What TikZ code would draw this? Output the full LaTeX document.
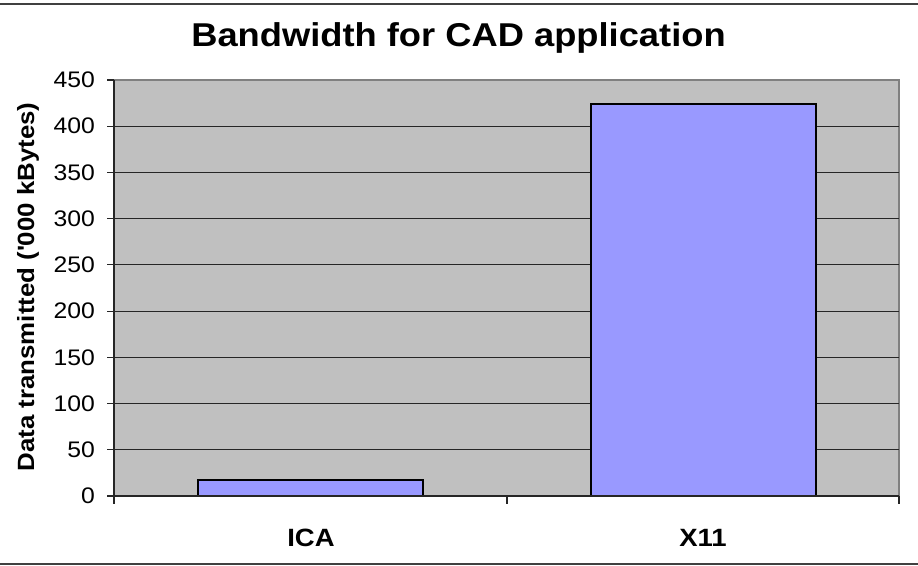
\documentclass[tikz,border=0pt]{standalone}
\usepackage{fontspec}
\setmainfont[FakeStretch=1.1]{Liberation Sans}
\definecolor{plotbg}{HTML}{C0C0C0}
\definecolor{plotframe}{HTML}{808080}
\definecolor{barfill}{HTML}{9999FF}
\definecolor{rulegray}{HTML}{404040}
\tikzset{
  gridline/.style={line width=1pt, black!85},
  axisline/.style={line width=1.2pt, black!85},
  databar/.style={fill=barfill, draw=black, line width=1.5pt},
  ticklabel/.style={anchor=east, inner sep=0pt, font=\fontsize{22.5}{26}\selectfont},
  catlabel/.style={anchor=base, inner sep=0pt, font=\fontsize{25}{28}\selectfont\bfseries},
}
\begin{document}
\begin{tikzpicture}[x=1pt, y=1pt]
  \useasboundingbox (0,0) rectangle (918,-565);
  % outer frame rules
  \draw[rulegray, line width=1.5pt] (0,-4) -- (918,-4);
  \draw[rulegray, line width=1.5pt] (0,-564) -- (918,-564);
  % plot area
  \coordinate (pa-sw) at (114,-496);
  \coordinate (pa-ne) at (899,-80);
  \fill[plotbg] (pa-sw) rectangle (pa-ne);
  \draw[plotframe, line width=2pt] (114,-80) -- (899,-80) -- (899,-504);
  % horizontal gridlines, y ticks and their labels (416 units span 0..450)
  \foreach \v in {0,50,...,450} {
    \pgfmathsetmacro\yy{-496+\v*0.924444}
    \ifnum\v>0 \ifnum\v<450 \draw[gridline] (114,\yy) -- (899,\yy); \fi\fi
    \draw[axisline] (107,\yy) -- (114,\yy);
    \node[ticklabel] (yl\v) at (95,\yy) {\v};
  }
  % bars
  \draw[databar] (198,-496) rectangle (423,-480);
  \draw[databar] (591,-496) rectangle (816,-104);
  % axes
  \draw[axisline] (114,-80) -- (114,-504);
  \draw[axisline] (114,-496) -- (899,-496);
  \foreach \xx in {114,507,899} \draw[axisline] (\xx,-496) -- (\xx,-504);
  % category labels
  \node[catlabel] (cat-ica) at (311,-546) {ICA};
  \node[catlabel] (cat-x11) at (703,-546) {X11};
  % axis title
  \node[rotate=90, inner sep=0pt, font=\fontsize{23.5}{27}\selectfont\bfseries] (ytitle) at (28,-287) {Data transmitted (\textquotesingle000 kBytes)};
  % chart title
  \node[anchor=base, inner sep=0pt, font=\fontsize{33}{38}\selectfont\bfseries] (title) at (458.5,-46) {Bandwidth for CAD application};
\end{tikzpicture}
\end{document}
